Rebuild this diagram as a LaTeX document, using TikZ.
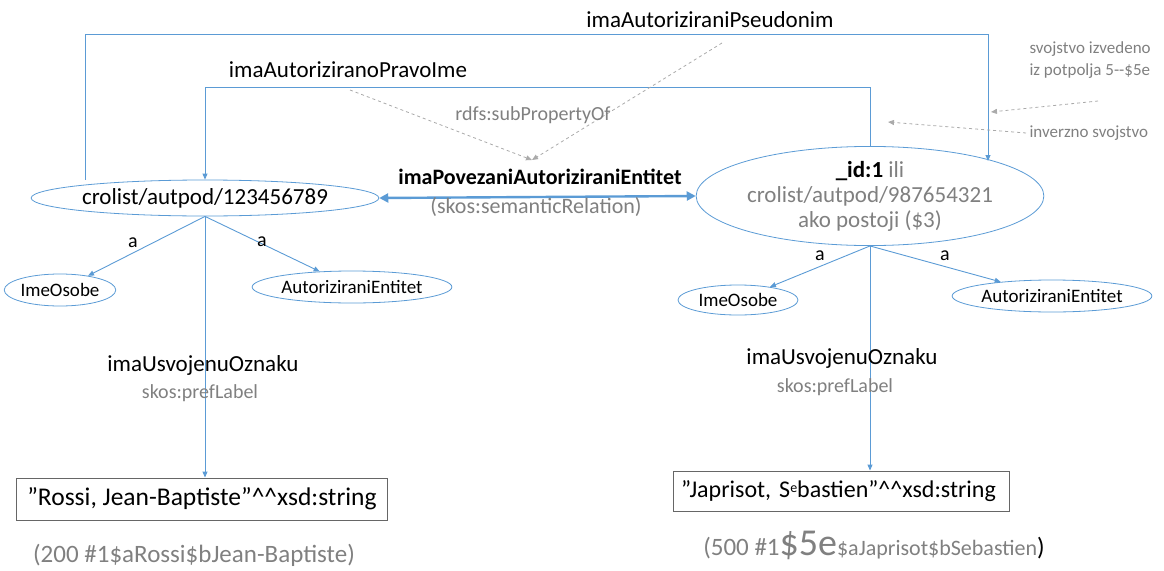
\documentclass[tikz,border=0pt]{standalone}
\usepackage{fontspec}
\setmainfont{Carlito}
\usetikzlibrary{shapes.geometric}
\usetikzlibrary{arrows.meta}
\usetikzlibrary{positioning}
\usetikzlibrary{calc}
\definecolor{linkblue}{RGB}{91,155,213}
\definecolor{notegray}{RGB}{128,128,128}
\definecolor{dashgray}{RGB}{170,170,170}

\begin{document}
\begin{tikzpicture}[x=1pt,y=-1pt,
  res/.style={ellipse,draw=linkblue,line width=0.8pt,inner sep=0pt,font=\fontsize{23}{25}\selectfont},
  cls/.style={res,font=\fontsize{19}{22}\selectfont},
  lit/.style={draw=black!60,line width=0.9pt,inner sep=0pt,font=\fontsize{25.5}{28}\selectfont},
  plain/.style={draw=linkblue,line width=0.9pt},
  link/.style={plain,-{Triangle[length=6pt,width=5pt]}},
  both/.style={draw=linkblue,line width=2.4pt,{Triangle[length=9pt,width=9pt]}-{Triangle[length=9pt,width=9pt]}},
  sub/.style={draw=dashgray,line width=0.8pt,dashed,-{Triangle[length=6pt,width=5pt]}},
  prop/.style={font=\fontsize{23}{26}\selectfont},
  note/.style={text=notegray,font=\fontsize{20}{24}\selectfont},
  small/.style={text=notegray,font=\fontsize{17}{22}\selectfont,align=left,anchor=west}]
\useasboundingbox (0,0) rectangle (1164,570);

\node[res,minimum width=330,minimum height=36] (L) at (205,198) {crolist/autpod/123456789};
\node[res,minimum width=340,minimum height=98,align=center,text=notegray] (R) at (870,196)
  {\textcolor{black}{\textbf{\_id:1}} ili\\crolist/autpod/987654321\\ako postoji (\$3)};

\draw[both] (L.east) -- (R.west);
\node[prop,font=\fontsize{22}{26}\selectfont\bfseries] (rel) at (540,177) {imaPovezaniAutoriziraniEntitet};
\node[note,font=\fontsize{22}{26}\selectfont] (relnote) at (536,207) {(skos:semanticRelation)};

\node[prop] (pseud) at (710,20) {imaAutoriziraniPseudonim};
\coordinate (pl) at (85,34);
\coordinate (pr) at (988,34);
\coordinate (rin) at ($(R.center)+(118,-35)$);
\draw[link] (L.north -| pl) |- (pr) -- (rin);

\node[prop] (pravo) at (348,70) {imaAutoriziranoPravoIme};
\coordinate (pc) at (205,87);
\draw[link] (R.north) |- (pc) -- (L.north);

\coordinate (sp) at (532,160);
\draw[sub] (350,90) -- (sp);
\draw[sub] (722,43) -- (sp);
\node[note] (subprop) at (533,115) {rdfs:subPropertyOf};

\node[small] (derived) at (1026,60) {svojstvo izvedeno\\iz potpolja 5-{}-\$5e};
\draw[sub] (1098,101) -- (991,112);
\node[small] (inv) at (1026,133) {inverzno svojstvo};
\draw[sub] (inv.west) -- (888,122);

\node[cls,minimum width=100,minimum height=32] (io1) at (60,290) {ImeOsobe};
\node[cls,minimum width=168,minimum height=32] (ae1) at (352,287) {AutoriziraniEntitet};
\draw[link] (L.south) -- (io1);
\draw[link] (L.south) -- (ae1);
\node[prop,font=\fontsize{20}{24}\selectfont] at (133,243) {a};
\node[prop,font=\fontsize{20}{24}\selectfont] at (262,242) {a};

\node[lit,minimum width=371,minimum height=42] (lit1) at (202,499) {”Rossi, Jean-Baptiste”\^{}\^{}xsd:string};
\draw[link] (L.south) -- (L.south |- lit1.north);
\node[prop] (usv1) at (203,365) {imaUsvojenuOznaku};
\node[note] (pref1) at (200,393) {skos:prefLabel};
\node[note,font=\fontsize{25}{28}\selectfont] (src1) at (194,555) {(200 \#1\$aRossi\$bJean-Baptiste)};

\node[cls,minimum width=120,minimum height=30] (io2) at (738,300) {ImeOsobe};
\node[cls,minimum width=168,minimum height=32] (ae2) at (1052,296) {AutoriziraniEntitet};
\draw[link] (R.south) -- (io2);
\draw[link] (R.south) -- (ae2);
\node[prop,font=\fontsize{20}{24}\selectfont] at (820,256) {a};
\node[prop,font=\fontsize{20}{24}\selectfont] at (945,256) {a};

\node[lit,minimum height=40,text width=320,inner xsep=8pt,align=left,font=\fontsize{24}{28}\selectfont] (lit2) at (841,491)
  {”Japrisot, S\raisebox{0.4ex}{\fontsize{14}{14}\selectfont e}bastien”\^{}\^{}xsd:string};
\draw[link] (R.south) -- (R.south |- lit2.north);
\node[prop] (usv2) at (842,358) {imaUsvojenuOznaku};
\node[note] (pref2) at (835,387) {skos:prefLabel};
\node[note,font=\fontsize{25}{28}\selectfont] (src2) at (874,545)
  {(500 \#1{\fontsize{38}{38}\selectfont\$5e}{\fontsize{22}{26}\selectfont\$aJaprisot\$bSebastien}\textcolor{black}{)}};
\end{tikzpicture}
\end{document}
